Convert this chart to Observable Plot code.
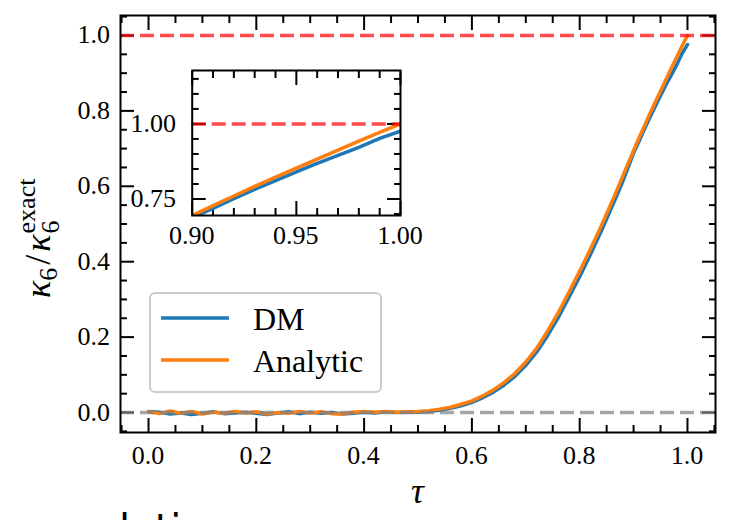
<!DOCTYPE html>
<html>
<head>
<meta charset="utf-8">
<script src="https://cdn.jsdelivr.net/npm/d3@7"></script>
<script src="https://cdn.jsdelivr.net/npm/@observablehq/plot@0.6"></script>
<style>
  html, body { margin: 0; padding: 0; background: white; overflow: hidden; }
  #wrap { position: relative; width: 731px; height: 520px; overflow: hidden; }
  #inset { position: absolute; left: 100px; top: 60px; }
</style>
</head>
<body>
<div id="wrap"><div id="main"></div><div id="inset"></div></div>
<script>
// ---- data ----
const tau = [0.00,0.02,0.04,0.06,0.08,0.10,0.12,0.14,0.16,0.18,0.20,0.22,0.24,0.26,0.28,0.30,0.32,0.34,0.36,0.38,0.40,0.42,0.44,0.46,0.48,0.50,0.52,0.54,0.56,0.58,0.60,0.62,0.64,0.66,0.68,0.70,0.72,0.74,0.76,0.78,0.80,0.81,0.82,0.83,0.84,0.85,0.86,0.87,0.88,0.89,0.90,0.91,0.92,0.93,0.94,0.95,0.96,0.97,0.98,0.99,1.00];
const dmValues = [0.003,0.001,-0.004,-0.001,-0.005,-0.002,0.002,-0.003,-0.001,0.001,-0.002,-0.005,-0.001,0.002,-0.003,0.001,-0.002,0.000,-0.004,-0.002,0.001,-0.001,0.002,0.000,0.001,0.001,0.003,0.006,0.011,0.018,0.027,0.039,0.054,0.073,0.096,0.125,0.160,0.203,0.251,0.305,0.360,0.389,0.419,0.450,0.481,0.513,0.546,0.579,0.613,0.650,0.688,0.719,0.751,0.782,0.811,0.840,0.869,0.895,0.922,0.952,0.976];
const analyticValues = [0.002,-0.003,0.004,-0.002,0.003,-0.004,0.001,-0.002,0.003,-0.001,0.002,-0.004,0.000,-0.002,0.003,-0.001,0.002,-0.003,-0.004,0.001,0.003,0.001,0.003,0.001,0.002,0.003,0.005,0.009,0.014,0.022,0.031,0.044,0.060,0.080,0.104,0.134,0.170,0.215,0.264,0.319,0.375,0.404,0.434,0.464,0.495,0.527,0.560,0.593,0.627,0.661,0.695,0.728,0.760,0.792,0.823,0.853,0.883,0.913,0.943,0.972,1.000];
const seriesNames = ["DM", "Analytic"];
const seriesColors = ["#1f77b4", "#ff7f0e"];
const refLines = [1, 0];
const refColors = ["#ff0000", "#808080"];

const xMajor = [0.0, 0.2, 0.4, 0.6, 0.8, 1.0];
const xMinor = [-0.05,0.05,0.10,0.15,0.25,0.30,0.35,0.45,0.50,0.55,0.65,0.70,0.75,0.85,0.90,0.95,1.05];
const yMajor = [0.0, 0.2, 0.4, 0.6, 0.8, 1.0];
const yMinor = [-0.05,0.05,0.10,0.15,0.25,0.30,0.35,0.45,0.50,0.55,0.65,0.70,0.75,0.85,0.90,0.95,1.05];
const insetXMajor = [0.90, 0.95, 1.00];
const insetXMinor = [0.91,0.92,0.93,0.94,0.96,0.97,0.98,0.99];
const insetYMajor = [0.75, 1.00];
const insetYMinor = [0.70,0.80,0.85,0.90,0.95,1.05,1.10,1.15];

const dm = tau.map((t, i) => ({tau: t, v: dmValues[i]}));
const analytic = tau.map((t, i) => ({tau: t, v: analyticValues[i]}));

const font = "Liberation Serif";

function tickAxes(xMaj, xMin, yMaj, yMin) {
  const common = {label: null, tickFormat: () => "", strokeWidth: 2, stroke: "black"};
  return [
    Plot.axisX({...common, ticks: xMaj, anchor: "bottom", tickSize: -14}),
    Plot.axisX({...common, ticks: xMin, anchor: "bottom", tickSize: -7}),
    Plot.axisX({...common, ticks: xMaj, anchor: "top", tickSize: -14}),
    Plot.axisX({...common, ticks: xMin, anchor: "top", tickSize: -7}),
    Plot.axisY({...common, ticks: yMaj, anchor: "left", tickSize: -14}),
    Plot.axisY({...common, ticks: yMin, anchor: "left", tickSize: -7}),
    Plot.axisY({...common, ticks: yMaj, anchor: "right", tickSize: -14}),
    Plot.axisY({...common, ticks: yMin, anchor: "right", tickSize: -7})
  ];
}

function dataMarks(clip, rules) {
  return [
    Plot.line(dm, {x: "tau", y: "v", stroke: seriesColors[0], strokeWidth: 3.5, clip}),
    Plot.line(analytic, {x: "tau", y: "v", stroke: seriesColors[1], strokeWidth: 3.5, clip}),
    ...rules.map((r) => Plot.ruleY([r], {stroke: refColors[refLines.indexOf(r)], strokeOpacity: 0.7, strokeWidth: 3.5, strokeDasharray: "14,6"}))
  ];
}

const main = Plot.plot({
  width: 731, height: 520,
  marginLeft: 120, marginRight: 16, marginTop: 15, marginBottom: 88,
  x: {domain: [-0.052, 1.052]},
  y: {domain: [-0.053, 1.053]},
  style: {background: "white"},
  marks: [
    ...tickAxes(xMajor, xMinor, yMajor, yMinor),
    ...dataMarks(false, refLines),
    Plot.frame({strokeWidth: 2, stroke: "black"})
  ]
});
document.getElementById("main").appendChild(main);

const insetDomainY = [0.695, 1.178];
const inset = Plot.plot({
  width: 330, height: 200,
  marginLeft: 91.7, marginRight: 30, marginTop: 10, marginBottom: 45,
  x: {domain: [0.90, 1.00]},
  y: {domain: insetDomainY},
  style: {background: "transparent"},
  marks: [
    ...tickAxes(insetXMajor, insetXMinor, insetYMajor, insetYMinor),
    ...dataMarks(true, refLines.filter(r => r >= insetDomainY[0] && r <= insetDomainY[1])),
    Plot.frame({strokeWidth: 2, stroke: "black"})
  ]
});
document.getElementById("inset").appendChild(inset);

// ---- tick labels placed through Plot's scales ----
function tickLabels(chart, xTicks, yTicks, fmt, xBaseline, yRight) {
  const s = d3.select(chart);
  const xs = chart.scale("x"), ys = chart.scale("y");
  const g = s.append("g").attr("font-family", font).attr("font-size", 26).attr("fill", "black");
  xTicks.forEach(v => g.append("text").attr("x", xs.apply(v)).attr("y", xBaseline)
    .attr("text-anchor", "middle").text(fmt(v)));
  yTicks.forEach(v => g.append("text").attr("x", yRight).attr("y", ys.apply(v) + 8.5)
    .attr("text-anchor", "end").text(fmt(v)));
}
tickLabels(main, xMajor, yMajor, d3.format(".1f"), 464, 110);
tickLabels(inset, insetXMajor, insetYMajor, d3.format(".2f"), 184, 76);

// ---- axis labels & legend ----
const svg = d3.select(main);
svg.append("text")
  .attr("x", 417.5).attr("y", 503)
  .attr("text-anchor", "middle")
  .attr("font-family", font)
  .attr("font-style", "italic").attr("font-size", 36)
  .attr("fill", "black")
  .text("τ");

const yl = svg.append("g").attr("transform", "translate(50,298) rotate(-90)")
  .attr("fill", "black").attr("font-family", font).attr("text-anchor", "start");
const t1 = yl.append("text").attr("font-size", 36).attr("text-anchor", "start");
t1.append("tspan").attr("font-style", "italic").text("κ");
t1.append("tspan").attr("font-size", 26).attr("dy", 7).text("6");
t1.append("tspan").attr("dy", -7).attr("dx", 3).text("/");
t1.append("tspan").attr("dx", 3).attr("font-style", "italic").text("κ");
const w = t1.node().getComputedTextLength() + 6;
yl.append("text").attr("x", w + 1).attr("y", -15).attr("font-size", 26).attr("text-anchor", "start").text("exact");
yl.append("text").attr("x", w + 1).attr("y", 9).attr("font-size", 26).attr("text-anchor", "start").text("6");

const lg = svg.append("g").attr("font-family", font).attr("text-anchor", "start");
lg.append("rect").attr("x", 150).attr("y", 293).attr("width", 231).attr("height", 99)
  .attr("rx", 5).attr("fill", "white").attr("fill-opacity", 0.8)
  .attr("stroke", "#cccccc").attr("stroke-width", 2);
seriesNames.forEach((name, i) => {
  const yy = 318 + i * 42;
  lg.append("line").attr("x1", 161).attr("x2", 229).attr("y1", yy).attr("y2", yy)
    .attr("stroke", seriesColors[i]).attr("stroke-width", 3.5);
  lg.append("text").attr("x", 253).attr("y", yy + 12).attr("font-size", 32)
    .attr("text-anchor", "start").attr("fill", "black").text(name);
});

// partially visible text from the page below the figure
svg.append("text").attr("x", 119).attr("y", 543)
  .attr("font-family", "DejaVu Sans").attr("font-size", 40).attr("fill", "black")
  .attr("text-anchor", "start")
  .text("lation");
</script>
</body>
</html>
